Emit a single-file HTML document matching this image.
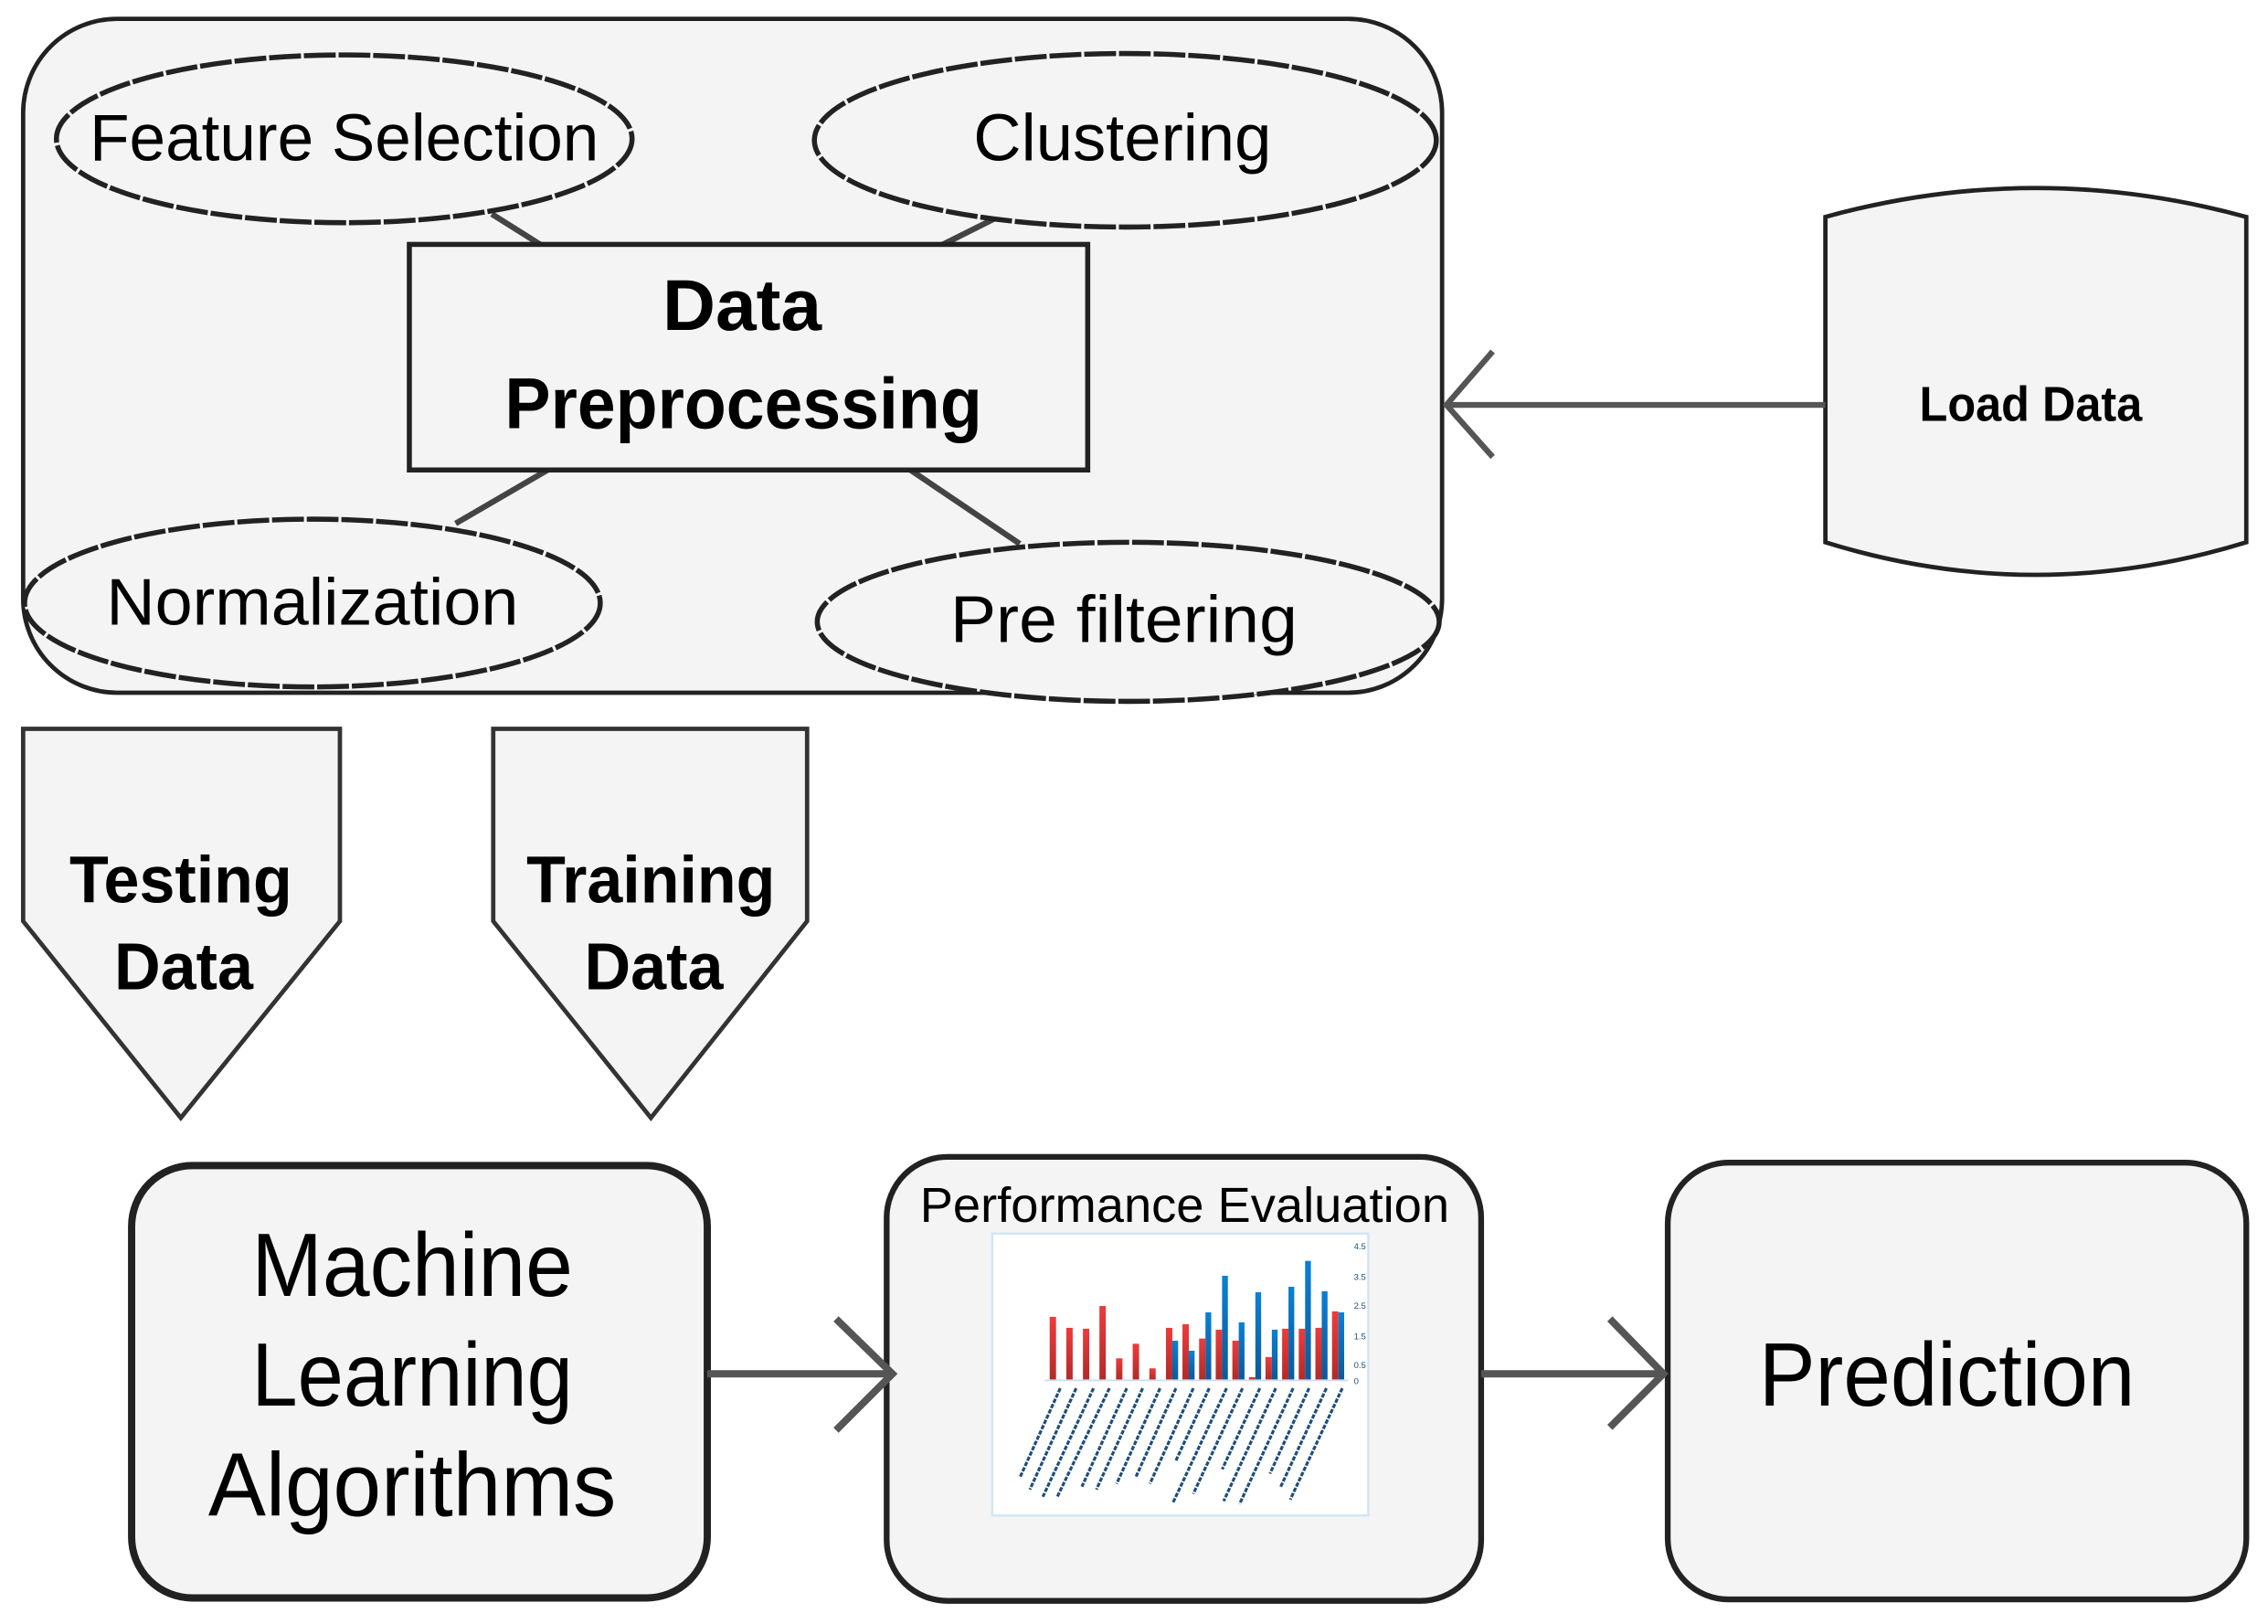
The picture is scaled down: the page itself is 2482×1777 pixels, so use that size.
<!DOCTYPE html>
<html><head><meta charset="utf-8"><style>
html,body{margin:0;padding:0;background:#fff;}
svg{display:block;}
text{font-family:"Liberation Sans",sans-serif;fill:#000;}
</style></head><body>
<svg width="2482" height="1777" viewBox="0 0 1568 1123" preserveAspectRatio="none" xmlns="http://www.w3.org/2000/svg">
<rect x="16" y="13" width="981" height="466" rx="65" ry="65" fill="#f4f4f4" stroke="#222" stroke-width="3"/>
<g stroke="#444" stroke-width="4">
<line x1="340" y1="148" x2="375" y2="170"/>
<line x1="690" y1="150" x2="650" y2="170"/>
<line x1="382" y1="323" x2="315" y2="362"/>
<line x1="625" y1="322" x2="705" y2="376"/>
</g>
<g fill="#f4f4f4" stroke="#222" stroke-width="3.5" stroke-dasharray="22 2">
<ellipse cx="238" cy="96" rx="199" ry="58"/>
<ellipse cx="778" cy="97" rx="215" ry="60"/>
<ellipse cx="216" cy="417" rx="199" ry="58"/>
<ellipse cx="780" cy="430" rx="215" ry="55"/>
</g>
<text x="238" y="111" font-size="46" text-anchor="middle" textLength="352" lengthAdjust="spacingAndGlyphs">Feature Selection</text>
<text x="776" y="111" font-size="46" text-anchor="middle" textLength="206" lengthAdjust="spacingAndGlyphs">Clustering</text>
<text x="216" y="432" font-size="46" text-anchor="middle" textLength="285" lengthAdjust="spacingAndGlyphs">Normalization</text>
<text x="777" y="444" font-size="46" text-anchor="middle" textLength="240" lengthAdjust="spacingAndGlyphs">Pre filtering</text>
<rect x="283" y="169" width="469" height="156" fill="#f4f4f4" stroke="#222" stroke-width="3.5"/>
<text x="513" y="228" font-size="50" font-weight="bold" text-anchor="middle" textLength="110" lengthAdjust="spacingAndGlyphs">Data</text>
<text x="514" y="296" font-size="50" font-weight="bold" text-anchor="middle" textLength="330" lengthAdjust="spacingAndGlyphs">Preprocessing</text>
<path d="M1262,150 Q1407,110 1553,150 L1553,375 Q1407,420 1262,375 Z" fill="#f4f4f4" stroke="#222" stroke-width="3"/>
<text x="1404" y="291" font-size="34" font-weight="bold" text-anchor="middle" textLength="154" lengthAdjust="spacingAndGlyphs">Load Data</text>
<g stroke="#555" stroke-width="4" fill="none">
<line x1="1262" y1="280" x2="1000" y2="280"/>
<polyline points="1032,243 1000,280 1032,316"/>
</g>
<path d="M16,504 L235,504 L235,637 L125,773 L16,637 Z" fill="#f4f4f4" stroke="#333" stroke-width="3"/>
<path d="M341,504 L558,504 L558,637 L450,773 L341,637 Z" fill="#f4f4f4" stroke="#333" stroke-width="3"/>
<text x="125" y="624" font-size="46" font-weight="bold" text-anchor="middle" textLength="154" lengthAdjust="spacingAndGlyphs">Testing</text>
<text x="127" y="684" font-size="46" font-weight="bold" text-anchor="middle" textLength="96" lengthAdjust="spacingAndGlyphs">Data</text>
<text x="450" y="624" font-size="46" font-weight="bold" text-anchor="middle" textLength="172" lengthAdjust="spacingAndGlyphs">Training</text>
<text x="452" y="684" font-size="46" font-weight="bold" text-anchor="middle" textLength="96" lengthAdjust="spacingAndGlyphs">Data</text>
<rect x="91" y="806" width="398" height="299" rx="42" fill="#f4f4f4" stroke="#222" stroke-width="5"/>
<text x="285" y="896" font-size="62" text-anchor="middle" textLength="222" lengthAdjust="spacingAndGlyphs">Machine</text>
<text x="285" y="972" font-size="62" text-anchor="middle" textLength="222" lengthAdjust="spacingAndGlyphs">Learning</text>
<text x="285" y="1048" font-size="62" text-anchor="middle" textLength="282" lengthAdjust="spacingAndGlyphs">Algorithms</text>
<rect x="613" y="800" width="411" height="307" rx="42" fill="#f4f4f4" stroke="#222" stroke-width="4"/>
<text x="819" y="845" font-size="34" text-anchor="middle" textLength="366" lengthAdjust="spacingAndGlyphs">Performance Evaluation</text>
<rect x="686" y="853" width="260" height="195" fill="#fff" stroke="#d0e4f4" stroke-width="1.5"/>
<g>
<defs>
<linearGradient id="r" x1="0" y1="0" x2="0" y2="1"><stop offset="0" stop-color="#ee3b3b"/><stop offset="1" stop-color="#b22a2a"/></linearGradient>
<linearGradient id="b" x1="0" y1="0" x2="0" y2="1"><stop offset="0" stop-color="#0a80d4"/><stop offset="1" stop-color="#0b5a9a"/></linearGradient>
</defs>
<g fill="url(#r)">
<rect x="725.7" y="910.6" width="4.4" height="43.4"/>
<rect x="737.2" y="918.2" width="4.4" height="35.8"/>
<rect x="748.7" y="918.8" width="4.4" height="35.2"/>
<rect x="760.1" y="903.1" width="4.4" height="50.9"/>
<rect x="771.6" y="939.3" width="4.4" height="14.7"/>
<rect x="783.1" y="929.2" width="4.4" height="24.8"/>
<rect x="794.6" y="946.2" width="4.4" height="7.8"/>
<rect x="806.1" y="918.2" width="4.4" height="35.8"/>
<rect x="817.5" y="915.7" width="4.4" height="38.3"/>
<rect x="829" y="925.6" width="4.4" height="28.4"/>
<rect x="840.5" y="919.5" width="4.4" height="34.5"/>
<rect x="852" y="927.1" width="4.4" height="26.9"/>
<rect x="863.5" y="952.3" width="4.4" height="1.7"/>
<rect x="874.9" y="938.4" width="4.4" height="15.6"/>
<rect x="886.4" y="918.8" width="4.4" height="35.2"/>
<rect x="897.9" y="918.8" width="4.4" height="35.2"/>
<rect x="909.4" y="918.2" width="4.4" height="35.8"/>
<rect x="920.9" y="906.8" width="4.4" height="47.2"/>
</g>
<g fill="url(#b)">
<rect x="810.5" y="927.1" width="4" height="26.9"/>
<rect x="821.9" y="934" width="4" height="20"/>
<rect x="833.4" y="907.5" width="4" height="46.5"/>
<rect x="844.9" y="882.2" width="4" height="71.8"/>
<rect x="856.4" y="914.4" width="4" height="39.6"/>
<rect x="867.9" y="893.6" width="4" height="60.4"/>
<rect x="879.3" y="919.5" width="4" height="34.5"/>
<rect x="890.8" y="889.8" width="4" height="64.2"/>
<rect x="902.3" y="871.9" width="4" height="82.1"/>
<rect x="913.8" y="892.9" width="4" height="61.1"/>
<rect x="925.3" y="907.5" width="4" height="46.5"/>
</g>
<line x1="722" y1="954.5" x2="932" y2="954.5" stroke="#cfe0f0" stroke-width="1.2"/>
<g stroke="#1f4e79" stroke-width="2" stroke-dasharray="3 1">
<line x1="733" y1="960" x2="705" y2="1022"/>
<line x1="744" y1="960" x2="712" y2="1030"/>
<line x1="756" y1="960" x2="721" y2="1035"/>
<line x1="767" y1="960" x2="731" y2="1035"/>
<line x1="779" y1="960" x2="748" y2="1028"/>
<line x1="790" y1="960" x2="758" y2="1030"/>
<line x1="802" y1="960" x2="772" y2="1026"/>
<line x1="813" y1="960" x2="785" y2="1022"/>
<line x1="825" y1="960" x2="795" y2="1026"/>
<line x1="836" y1="960" x2="813" y2="1010"/>
<line x1="848" y1="960" x2="811" y2="1039"/>
<line x1="859" y1="960" x2="825" y2="1033"/>
<line x1="871" y1="960" x2="845" y2="1016"/>
<line x1="882" y1="960" x2="846" y2="1038"/>
<line x1="894" y1="960" x2="857" y2="1040"/>
<line x1="905" y1="960" x2="878" y2="1019"/>
<line x1="917" y1="960" x2="885" y2="1029"/>
<line x1="928" y1="960" x2="892" y2="1037"/>
</g>
<g font-size="6">
<text x="936" y="864" style="fill:#1f4e79">4.5</text>
<text x="936" y="885" style="fill:#1f4e79">3.5</text>
<text x="936" y="905" style="fill:#1f4e79">2.5</text>
<text x="936" y="926" style="fill:#1f4e79">1.5</text>
<text x="936" y="946" style="fill:#1f4e79">0.5</text>
<text x="936" y="957" style="fill:#1f4e79">0</text>
</g>
</g>
<rect x="1153" y="804" width="400" height="302" rx="42" fill="#f4f4f4" stroke="#222" stroke-width="4"/>
<text x="1346" y="972" font-size="62" text-anchor="middle" textLength="260" lengthAdjust="spacingAndGlyphs">Prediction</text>
<g stroke="#555" stroke-width="5" fill="none">
<line x1="489" y1="950" x2="617" y2="950"/>
<polyline points="578,912 617,950 578,989"/>
<line x1="1024" y1="950" x2="1150" y2="950"/>
<polyline points="1113,912 1150,950 1113,987"/>
</g>
</svg>
</body></html>
